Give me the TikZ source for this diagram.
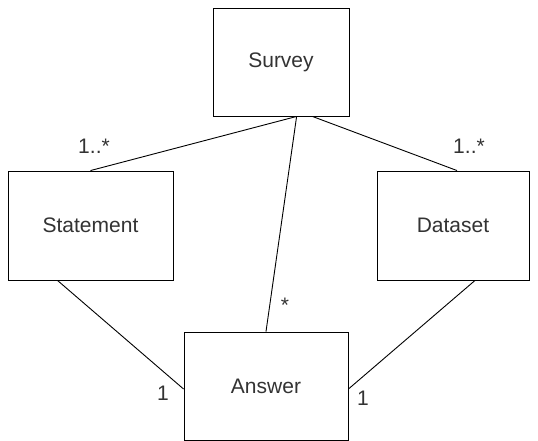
\documentclass[tikz,border=0pt]{standalone}
\usepackage{fontspec}
\setmainfont{Liberation Sans}
\definecolor{TextGray}{HTML}{333333}
\tikzset{
  classbox/.style={draw=black, line width=0.9pt, fill=white, font=\fontsize{21}{24}\selectfont, text=TextGray, inner sep=0pt},
  mult/.style={font=\fontsize{21}{24}\selectfont, text=TextGray, inner sep=0pt},
  assoc/.style={line width=0.9pt, draw=black}
}
\begin{document}
\begin{tikzpicture}[x=1pt, y=-1pt]
  \useasboundingbox (0,0) rectangle (538,441);

  %%%%%%%%%% Classes %%%%%%%%%%
  \node[classbox, minimum width=136pt, minimum height=108pt] (survey) at (281,62) {Survey};
  \node[classbox, minimum width=165pt, minimum height=109pt] (statement) at (90.5,225.5) {Statement};
  \node[classbox, minimum width=152pt, minimum height=109pt] (dataset) at (453,225.5) {Dataset};
  \node[classbox, minimum width=164pt, minimum height=108pt] (answer) at (266,386) {Answer};

  %%%%%%%%%% Associations %%%%%%%%%%
  \draw [assoc] (survey.-74.5) -- (statement.north) ;
  \draw [assoc] (survey.-74.5) -- (answer.north) ;
  \draw [assoc] (survey.-60) -- ([xshift=4pt]dataset.north) ;
  \draw [assoc] ([xshift=-33pt]statement.south) -- ([yshift=-3pt]answer.west) ;
  \draw [assoc] ([xshift=22pt]dataset.south) -- ([yshift=-3pt]answer.east) ;

  %%%%%%%%%% Multiplicities %%%%%%%%%%
  \node[mult] (m1) at (94,146) {1..*};
  \node[mult] (m2) at (469,146) {1..*};
  \node[mult] (m3) at (285,305) {*};
  \node[mult] (m4) at (163,393) {1};
  \node[mult] (m5) at (363,398) {1};

\end{tikzpicture}
\end{document}
